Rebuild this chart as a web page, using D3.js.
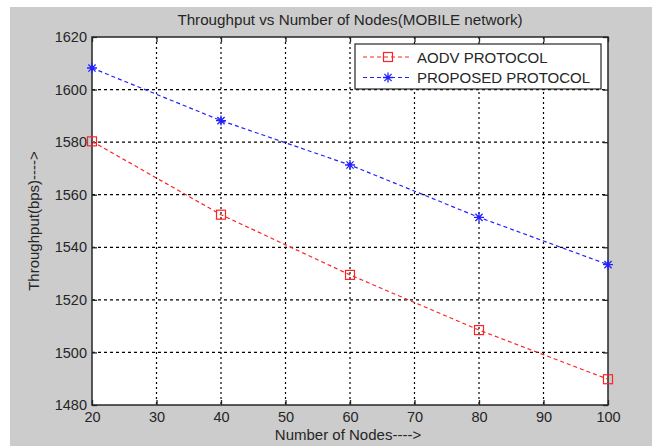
<!DOCTYPE html>
<html>
<head>
<meta charset="utf-8">
<script src="https://cdn.jsdelivr.net/npm/d3@7"></script>
<style>
  body { margin: 0; background: #fff; }
  text { font-family: Arial, "Liberation Sans", sans-serif; fill: #262626; }
</style>
</head>
<body>
<svg width="652" height="446"></svg>
<script>
// Data
const nodes = [20, 40, 60, 80, 100];
const aodv = [1580.3, 1552.4, 1529.5, 1508.5, 1489.8];
const proposed = [1608.2, 1588.2, 1571.3, 1551.4, 1533.4];
const xTicks = [20, 30, 40, 50, 60, 70, 80, 90, 100];
const yTicks = [1480, 1500, 1520, 1540, 1560, 1580, 1600, 1620];

const series = [
    { name: "AODV PROTOCOL", values: aodv, color: "#f22", marker: "square" },
    { name: "PROPOSED PROTOCOL", values: proposed, color: "#22f", marker: "star" },
];

const svg = d3.select("svg");

// figure background (matlab grey)
svg.append("rect")
    .attr("x", 10).attr("y", 7)
    .attr("width", 642).attr("height", 439)
    .attr("fill", "#cccccc");

const plotL = 92, plotR = 608, plotT = 37, plotB = 405;

const x = d3.scaleLinear().domain([20, 100]).range([plotL, plotR]);
const y = d3.scaleLinear().domain([1480, 1620]).range([plotB, plotT]);

// plot area
svg.append("rect")
    .attr("x", plotL).attr("y", plotT)
    .attr("width", plotR - plotL).attr("height", plotB - plotT)
    .attr("fill", "#fff");

// grid lines
svg.append("g")
    .selectAll("line")
    .data(xTicks.slice(1, -1))
    .enter()
    .append("line")
    .attr("x1", d => x(d)).attr("x2", d => x(d))
    .attr("y1", plotT).attr("y2", plotB)
    .attr("stroke", "#000")
    .attr("stroke-width", 1.2)
    .attr("stroke-dasharray", "2,3");

svg.append("g")
    .selectAll("line")
    .data(yTicks.slice(1, -1))
    .enter()
    .append("line")
    .attr("x1", plotL).attr("x2", plotR)
    .attr("y1", d => y(d)).attr("y2", d => y(d))
    .attr("stroke", "#000")
    .attr("stroke-width", 1.2)
    .attr("stroke-dasharray", "3,3");

// axes, ticks inside (box on)
const tickLen = 5;
const fontSize = 14.5;
const fmt = d3.format("d");

svg.append("g")
    .attr("transform", `translate(0,${plotB})`)
    .call(d3.axisBottom(x).tickValues(xTicks).tickFormat(fmt).tickSize(-tickLen).tickPadding(7))
    .call(g => g.select(".domain").remove());

svg.append("g")
    .attr("transform", `translate(0,${plotT})`)
    .call(d3.axisTop(x).tickValues(xTicks).tickSize(-tickLen).tickFormat(""))
    .call(g => g.select(".domain").remove());

svg.append("g")
    .attr("transform", `translate(${plotL},0)`)
    .call(d3.axisLeft(y).tickValues(yTicks).tickFormat(fmt).tickSize(-tickLen).tickPadding(5))
    .call(g => g.select(".domain").remove());

svg.append("g")
    .attr("transform", `translate(${plotR},0)`)
    .call(d3.axisRight(y).tickValues(yTicks).tickSize(-tickLen).tickFormat(""))
    .call(g => g.select(".domain").remove());

svg.selectAll(".tick line").attr("stroke", "#262626").attr("stroke-width", 1.3);
svg.selectAll(".tick text")
    .attr("font-size", fontSize)
    .attr("font-family", "Arial, 'Liberation Sans', sans-serif")
    .attr("fill", "#262626");

// box
svg.append("rect")
    .attr("x", plotL).attr("y", plotT)
    .attr("width", plotR - plotL).attr("height", plotB - plotT)
    .attr("fill", "none")
    .attr("stroke", "#262626")
    .attr("stroke-width", 1.5);

// markers
function drawMarker(g, type, cx, cy, color) {
    if (type === "square") {
        g.append("rect")
            .attr("x", cx - 4.5).attr("y", cy - 4.5)
            .attr("width", 9).attr("height", 9)
            .attr("fill", "none")
            .attr("stroke", color)
            .attr("stroke-width", 1.2);
    } else {
        const r = 5;
        const d = r * 0.72;
        g.append("path")
            .attr("d", `M${cx - r},${cy}H${cx + r}M${cx},${cy - r}V${cy + r}` +
                `M${cx - d},${cy - d}L${cx + d},${cy + d}M${cx - d},${cy + d}L${cx + d},${cy - d}`)
            .attr("stroke", color)
            .attr("stroke-width", 1.3);
    }
}

const line = d3.line()
    .x((d, i) => x(nodes[i]))
    .y(d => y(d));

series.forEach(s => {
    const g = svg.append("g");
    g.append("path")
        .attr("d", line(s.values))
        .attr("fill", "none")
        .attr("stroke", s.color)
        .attr("stroke-width", 1.2)
        .attr("stroke-dasharray", "4,3");
    s.values.forEach((v, i) => drawMarker(g, s.marker, x(nodes[i]), y(v), s.color));
});

// legend
const legend = svg.append("g");
legend.append("rect")
    .attr("x", 355).attr("y", 44)
    .attr("width", 246).attr("height", 45)
    .attr("fill", "#fff")
    .attr("stroke", "#262626")
    .attr("stroke-width", 1.2);

series.forEach((s, i) => {
    const ly = 57 + i * 20.5;
    legend.append("line")
        .attr("x1", 363).attr("x2", 411)
        .attr("y1", ly).attr("y2", ly)
        .attr("stroke", s.color)
        .attr("stroke-width", 1.2)
        .attr("stroke-dasharray", "4,3");
    drawMarker(legend, s.marker, 388, ly, s.color);
    legend.append("text")
        .attr("x", 417).attr("y", ly + 5.5)
        .attr("font-size", 15)
        .text(s.name);
});

// titles
svg.append("text")
    .attr("x", (plotL + plotR) / 2).attr("y", 25)
    .attr("text-anchor", "middle")
    .attr("font-size", 15.2)
    .text("Throughput vs Number of Nodes(MOBILE network)");

svg.append("text")
    .attr("x", (plotL + plotR) / 2 - 2).attr("y", 440)
    .attr("text-anchor", "middle")
    .attr("font-size", 15)
    .text("Number of Nodes---->");

svg.append("text")
    .attr("transform", `translate(39,${(plotT + plotB) / 2}) rotate(-90)`)
    .attr("text-anchor", "middle")
    .attr("font-size", 15)
    .text("Throughput(bps)---->");
</script>
</body>
</html>
